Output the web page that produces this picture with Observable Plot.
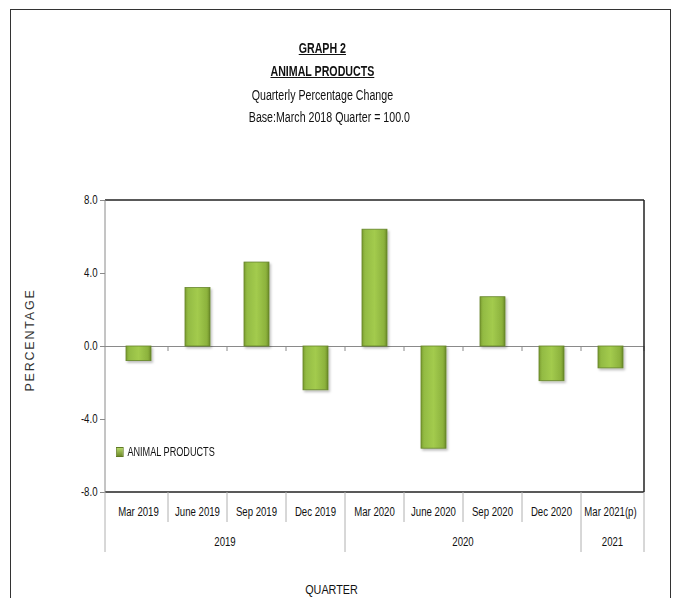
<!DOCTYPE html>
<html>
<head>
<meta charset="utf-8">
<script src="https://cdn.jsdelivr.net/npm/d3@7"></script>
<script src="https://cdn.jsdelivr.net/npm/@observablehq/plot@0.6"></script>
<style>
  html, body { margin: 0; padding: 0; background: #fff; }
  #page { position: relative; width: 677px; height: 598px; overflow: hidden;
          font-family: "Liberation Sans", Arial, sans-serif; color: #111; }
  #border { position: absolute; left: 10px; top: 9px; width: 661px; height: 620px; border: 1.5px solid #333; box-sizing: border-box; }
  .t { position: absolute; left: 0; width: 645px; text-align: center; font-size: 14px; line-height: 16px; transform: scaleX(0.76); transform-origin: 322px 0; }
  .u { font-weight: bold; text-decoration: underline; }
  #chart { position: absolute; left: 0; top: 185px; }
  #legend { position: absolute; left: 116px; top: 445px; font-size: 12px; display: flex; align-items: center; gap: 5px; color: #111; transform: scaleX(0.76); transform-origin: 0 0; white-space: nowrap; }
  #legend .sw { width: 8px; height: 8px; background: linear-gradient(#b5d86a, #6f8c2a); border: 0.5px solid #5f7a22; }
</style>
</head>
<body>
<div id="page">
  <div id="border"></div>
  <div class="t u" style="top:40px">GRAPH 2</div>
  <div class="t u" style="top:63px">ANIMAL PRODUCTS</div>
  <div class="t" style="top:87px">Quarterly Percentage Change</div>
  <div class="t" style="top:109px;left:7px">Base:March 2018 Quarter = 100.0</div>
  <div id="chart"></div>
  <div id="legend"><span class="sw"></span><span>ANIMAL PRODUCTS</span></div>
</div>
<script>
const quarters = ["Mar 2019","June 2019","Sep 2019","Dec 2019","Mar 2020","June 2020","Sep 2020","Dec 2020","Mar 2021(p)"];
const years = ["2019","2019","2019","2019","2020","2020","2020","2020","2021"];
const values = [-0.8, 3.2, 4.6, -2.4, 6.4, -5.6, 2.7, -1.9, -1.2];
const yTicks = [-8, -4, 0, 4, 8];
const seriesName = "ANIMAL PRODUCTS";
const yLabel = "PERCENTAGE";
const xLabel = "QUARTER";

const data = quarters.map((q, i) => ({quarter: q, year: years[i], value: values[i]}));
const FONT = '"Liberation Sans", Arial, sans-serif';

function decorations(index, scales, vals, dims) {
  const g = d3.create("svg:g").attr("font-family", FONT);
  const x = scales.x, y = scales.y;
  const bw = typeof x.bandwidth === "function" ? x.bandwidth() : x.bandwidth;
  const left = dims.marginLeft, right = dims.width - dims.marginRight;
  const top = dims.marginTop, bottom = dims.height - dims.marginBottom;
  const centers = quarters.map(q => x(q) + bw / 2);
  const bounds = [left];
  for (let i = 1; i < centers.length; i++) bounds.push((centers[i - 1] + centers[i]) / 2);
  bounds.push(right);
  const y0 = y(0);
  bounds.slice(1).forEach(b => g.append("line").attr("x1", b).attr("x2", b).attr("y1", y0).attr("y2", y0 + 5).attr("stroke", "#8a8a8a"));
  g.append("line").attr("x1", left).attr("x2", right).attr("y1", top).attr("y2", top).attr("stroke", "#222").attr("stroke-width", 1.5);
  g.append("line").attr("x1", right).attr("x2", right).attr("y1", top).attr("y2", bottom).attr("stroke", "#222").attr("stroke-width", 1.5);
  g.append("line").attr("x1", left).attr("x2", right).attr("y1", bottom).attr("y2", bottom).attr("stroke", "#222").attr("stroke-width", 1.5);
  g.append("line").attr("x1", left).attr("x2", left).attr("y1", top).attr("y2", bottom).attr("stroke", "#8a8a8a");
  bounds.forEach((b, i) => {
    const isYear = i === 0 || i === bounds.length - 1 || years[i] !== years[i - 1];
    g.append("line").attr("x1", b).attr("x2", b).attr("y1", bottom).attr("y2", bottom + (isYear ? 60 : 30))
      .attr("stroke", "#b0b0b0");
  });
  quarters.forEach((q, i) => g.append("text").attr("class", "narrow").attr("x", centers[i]).attr("y", bottom + 24)
    .attr("text-anchor", "middle").attr("font-size", 12).attr("fill", "#111").text(q));
  const groups = d3.groups(quarters.map((q, i) => ({q, i, yr: years[i]})), d => d.yr);
  groups.forEach(([yr, arr]) => {
    const a = bounds[arr[0].i], b = bounds[arr[arr.length - 1].i + 1];
    g.append("text").attr("class", "narrow").attr("x", (a + b) / 2).attr("y", bottom + 54).attr("text-anchor", "middle")
      .attr("font-size", 12).attr("fill", "#111").text(yr);
  });
  g.append("text").attr("transform", `translate(34,${(top + bottom) / 2 - 6}) rotate(-90)`)
    .attr("text-anchor", "middle")
    .attr("font-size", 12.5).attr("letter-spacing", 1.8).attr("fill", "#333").text(yLabel);
  g.append("text").attr("class", "narrow").attr("x", (left + right) / 2 - 43).attr("y", dims.height - 4).attr("text-anchor", "middle")
    .attr("font-size", 13.5).attr("fill", "#111").text(xLabel);
  return g.node();
}

const chart = Plot.plot({
  width: 677,
  height: 413,
  marginLeft: 105,
  marginRight: 33,
  marginTop: 15,
  marginBottom: 106,
  style: {fontFamily: FONT, fontSize: "12px", color: "#111", background: "transparent", overflow: "visible"},
  x: {domain: quarters, paddingInner: 0.58, paddingOuter: 0.29, axis: null},
  y: {domain: [-8, 8], ticks: yTicks, label: null},
  marks: [
    Plot.axisY({ticks: yTicks, tickFormat: d => d.toFixed(1), tickSize: 5, tickPadding: 3, stroke: "#8a8a8a", label: null, fontSize: 12}),
    Plot.ruleY([0], {stroke: "#8a8a8a", strokeWidth: 1}),
    Plot.barY(data, {x: "quarter", y: "value", fill: "url(#barGrad)", stroke: "#65842a", strokeWidth: 0.8}),
    decorations
  ]
});

const svg = d3.select(chart);
const defs = svg.insert("defs", ":first-child");
const lg = defs.append("linearGradient").attr("id", "barGrad").attr("x1", "0").attr("x2", "1").attr("y1", "0").attr("y2", "0");
[["0%", "#7a9b30"], ["12%", "#93bb43"], ["50%", "#a3cb4e"], ["88%", "#8cb23d"], ["100%", "#6c8a28"]]
  .forEach(([o, c]) => lg.append("stop").attr("offset", o).attr("stop-color", c));
const f = defs.append("filter").attr("id", "shadow").attr("x", "-20%").attr("y", "-20%").attr("width", "150%").attr("height", "150%");
f.append("feDropShadow").attr("dx", 1.5).attr("dy", 2).attr("stdDeviation", 1.2).attr("flood-color", "#000").attr("flood-opacity", 0.25);
svg.selectAll("rect").filter(function() { return this.getAttribute("fill") === "url(#barGrad)" || this.parentNode.getAttribute("fill") === "url(#barGrad)"; })
  .attr("filter", "url(#shadow)");
document.getElementById("chart").appendChild(chart);

svg.selectAll("[aria-label='y-axis tick label'] text, text.narrow").each(function() {
  const L = this.getComputedTextLength();
  if (L > 0) { this.setAttribute("textLength", (L * 0.8).toFixed(1)); this.setAttribute("lengthAdjust", "spacingAndGlyphs"); }
});
</script>
</body>
</html>
